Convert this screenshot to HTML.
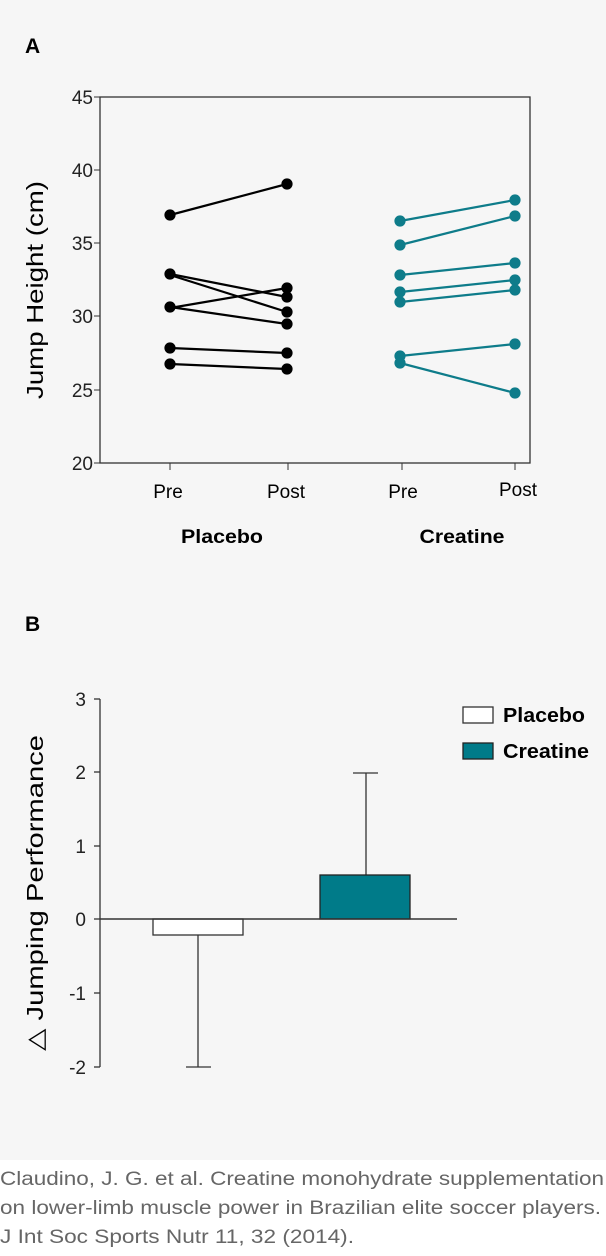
<!DOCTYPE html>
<html><head><style>
body{margin:0;width:606px;height:1256px;background:#fff;font-family:"Liberation Sans",sans-serif;}
</style></head><body>
<svg width="606" height="1256" style="position:absolute;left:0;top:0" font-family="Liberation Sans, sans-serif">
<rect width="606" height="1160" fill="#f6f6f6"/>
<text x="25" y="53" font-size="21" font-weight="bold">A</text>
<rect x="100" y="97" width="430" height="366" fill="none" stroke="#333" stroke-width="1.3"/>
<g font-size="19" text-anchor="end" fill="#222">
<text x="93" y="104">45</text><text x="93" y="177">40</text><text x="93" y="250">35</text><text x="93" y="323">30</text><text x="93" y="397">25</text><text x="93" y="470">20</text>
</g>
<g stroke="#333"><line x1="94" y1="97" x2="100" y2="97"/><line x1="94" y1="170" x2="100" y2="170"/><line x1="94" y1="243" x2="100" y2="243"/><line x1="94" y1="316" x2="100" y2="316"/><line x1="94" y1="390" x2="100" y2="390"/><line x1="94" y1="463" x2="100" y2="463"/>
<line x1="170" y1="463" x2="170" y2="470"/><line x1="288" y1="463" x2="288" y2="470"/><line x1="402" y1="463" x2="402" y2="470"/><line x1="515" y1="463" x2="515" y2="470"/></g>
<text transform="translate(43,290) rotate(-90)" font-size="23" text-anchor="middle" textLength="218" lengthAdjust="spacingAndGlyphs">Jump Height (cm)</text>
<g font-size="19" text-anchor="middle"><text x="168" y="498">Pre</text><text x="286" y="498">Post</text><text x="403" y="498">Pre</text><text x="518" y="496">Post</text></g>
<g font-size="19" font-weight="bold" text-anchor="middle"><text x="222" y="543" textLength="82" lengthAdjust="spacingAndGlyphs">Placebo</text><text x="462" y="543" textLength="85" lengthAdjust="spacingAndGlyphs">Creatine</text></g>
<g stroke="#000" stroke-width="2.2" fill="#000">
<line x1="170" y1="215" x2="287" y2="184"/><line x1="170" y1="274" x2="287" y2="297"/><line x1="170" y1="275" x2="287" y2="312"/><line x1="170" y1="308" x2="287" y2="288"/><line x1="170" y1="307" x2="287" y2="324"/><line x1="170" y1="348" x2="287" y2="353"/><line x1="170" y1="364" x2="287" y2="369"/>
<circle cx="170" cy="215" r="4.5"/><circle cx="170" cy="274" r="4.5"/><circle cx="170" cy="307" r="4.5"/><circle cx="170" cy="348" r="4.5"/><circle cx="170" cy="364" r="4.5"/>
<circle cx="287" cy="184" r="4.5"/><circle cx="287" cy="288" r="4.5"/><circle cx="287" cy="297" r="4.5"/><circle cx="287" cy="312" r="4.5"/><circle cx="287" cy="324" r="4.5"/><circle cx="287" cy="353" r="4.5"/><circle cx="287" cy="369" r="4.5"/>
</g>
<g stroke="#0e7c8a" stroke-width="2.2" fill="#0e7c8a">
<line x1="400" y1="221" x2="515" y2="200"/><line x1="400" y1="245" x2="515" y2="216"/><line x1="400" y1="275" x2="515" y2="263"/><line x1="400" y1="292" x2="515" y2="280"/><line x1="400" y1="302" x2="515" y2="290"/><line x1="400" y1="356" x2="515" y2="344"/><line x1="400" y1="363" x2="515" y2="393"/>
<circle cx="400" cy="221" r="4.5"/><circle cx="400" cy="245" r="4.5"/><circle cx="400" cy="275" r="4.5"/><circle cx="400" cy="292" r="4.5"/><circle cx="400" cy="302" r="4.5"/><circle cx="400" cy="356" r="4.5"/><circle cx="400" cy="363" r="4.5"/>
<circle cx="515" cy="200" r="4.5"/><circle cx="515" cy="216" r="4.5"/><circle cx="515" cy="263" r="4.5"/><circle cx="515" cy="280" r="4.5"/><circle cx="515" cy="290" r="4.5"/><circle cx="515" cy="344" r="4.5"/><circle cx="515" cy="393" r="4.5"/>
</g>
<text x="25" y="631" font-size="21" font-weight="bold">B</text>
<g stroke="#333" stroke-width="1.3">
<line x1="100" y1="699" x2="100" y2="1067"/>
<line x1="94" y1="699" x2="100" y2="699"/><line x1="94" y1="772" x2="100" y2="772"/><line x1="94" y1="846" x2="100" y2="846"/><line x1="94" y1="919" x2="100" y2="919"/><line x1="94" y1="993" x2="100" y2="993"/><line x1="94" y1="1067" x2="100" y2="1067"/>
<line x1="198" y1="935" x2="198" y2="1067"/><line x1="186" y1="1067" x2="211" y2="1067"/>
<line x1="366" y1="875" x2="366" y2="773"/><line x1="353" y1="773" x2="378" y2="773"/>
</g>
<rect x="153" y="919" width="90" height="16" fill="#fff" stroke="#333" stroke-width="1.3"/>
<rect x="320" y="875" width="90" height="44" fill="#007b89" stroke="#222" stroke-width="1.3"/>
<line x1="100" y1="919" x2="457" y2="919" stroke="#333" stroke-width="1.5"/>
<g font-size="19" text-anchor="end" fill="#222">
<text x="86" y="706">3</text><text x="86" y="779">2</text><text x="86" y="853">1</text><text x="86" y="926">0</text><text x="86" y="1000">-1</text><text x="86" y="1074">-2</text>
</g>
<text transform="translate(43,893) rotate(-90)" font-size="23" text-anchor="middle" textLength="316" lengthAdjust="spacingAndGlyphs">△ Jumping Performance</text>
<rect x="463" y="707" width="30" height="16" fill="#fff" stroke="#333" stroke-width="1.3"/>
<rect x="463" y="743" width="30" height="16" fill="#007b89" stroke="#222" stroke-width="1.3"/>
<g font-size="20" font-weight="bold"><text x="503" y="722" textLength="82" lengthAdjust="spacingAndGlyphs">Placebo</text><text x="503" y="758" textLength="86" lengthAdjust="spacingAndGlyphs">Creatine</text></g>
<g font-size="19" fill="#666">
<text x="0" y="1185" textLength="604" lengthAdjust="spacingAndGlyphs">Claudino, J. G. et al. Creatine monohydrate supplementation</text>
<text x="0" y="1214" textLength="601" lengthAdjust="spacingAndGlyphs">on lower-limb muscle power in Brazilian elite soccer players.</text>
<text x="0" y="1243" textLength="354" lengthAdjust="spacingAndGlyphs">J Int Soc Sports Nutr 11, 32 (2014).</text>
</g>
</svg>
</body></html>
